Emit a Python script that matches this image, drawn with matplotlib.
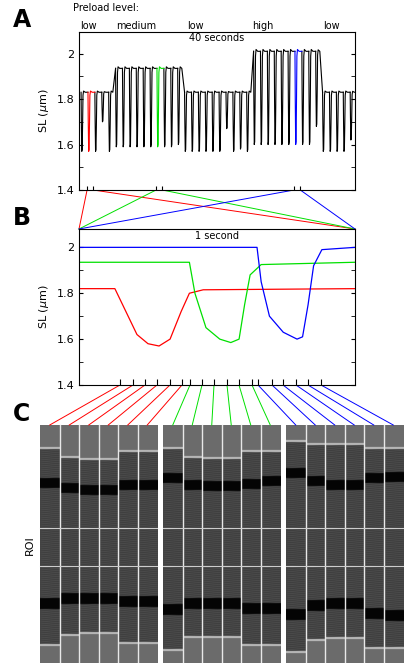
import numpy as np
import matplotlib
matplotlib.use("Agg")
import matplotlib.pyplot as plt
from matplotlib.ticker import MultipleLocator

W, H = 408, 663
# ---------------- data ----------------
beat_times = [0.3 + i for i in range(40)]
beat_base = [1.83]*5 + [1.935]*10 + [1.83]*10 + [2.01]*10 + [1.83]*5
beat_min = [1.57, 1.57, 1.57, 1.70, 1.57,
            1.59, 1.59, 1.59, 1.59, 1.59, 1.59, 1.59, 1.59, 1.59, 1.60,
            1.57, 1.57, 1.57, 1.57, 1.57, 1.57, 1.67, 1.57, 1.58, 1.57,
            1.60, 1.60, 1.60, 1.60, 1.60, 1.60, 1.60, 1.60, 1.60, 1.68,
            1.57, 1.57, 1.57, 1.57, 1.62]
twitch_phase = [0.0, 0.04, 0.10, 0.16, 0.22, 0.28, 0.36, 0.6, 1.0]
twitch_frac = [0.0, 0.5, 1.0, 0.97, 0.55, 0.05, -0.02, 0.0, 0.0]
highlight = {1: "red", 11: "#00e000", 31: "blue"}
segment_labels = ["low", "medium", "low", "high", "low"]
segment_label_x = [88, 136, 195, 263, 331]

b_red_t = [0, 0.13, 0.17, 0.21, 0.25, 0.29, 0.33, 0.37, 0.40, 0.45, 1.0]
b_red_y = [1.82, 1.82, 1.72, 1.62, 1.58, 1.57, 1.60, 1.72, 1.80, 1.815, 1.82]
b_grn_t = [0, 0.40, 0.42, 0.46, 0.51, 0.55, 0.58, 0.60, 0.62, 0.66, 1.0]
b_grn_y = [1.935, 1.935, 1.80, 1.65, 1.60, 1.585, 1.60, 1.75, 1.88, 1.925, 1.935]
b_blu_t = [0, 0.645, 0.66, 0.69, 0.74, 0.79, 0.81, 0.83, 0.85, 0.88, 1.0]
b_blu_y = [2.0, 2.0, 1.85, 1.70, 1.63, 1.60, 1.61, 1.75, 1.92, 1.99, 2.0]

frame_tick_px = [120, 133, 145, 157, 170, 182, 190, 202, 214, 227, 239, 252,
                 258, 272, 283, 296, 308, 321]
frame_colors = ["red"]*6 + ["#00e000"]*6 + ["blue"]*6
group_x0 = [40, 163, 286]
col_w = 19.5
col_top_edge = [[448, 457, 459, 459, 451, 451], [448, 457, 458, 458, 451, 451], [441, 444, 444, 444, 448, 448]]
col_band1 = [[478, 483, 485, 485, 480, 480], [473, 480, 481, 481, 479, 476], [468, 476, 480, 480, 473, 472]]
col_band2 = [[598, 593, 593, 593, 596, 596], [604, 598, 598, 598, 603, 603], [609, 600, 598, 598, 608, 610]]
col_bot_edge = [[645, 635, 633, 633, 643, 643], [650, 637, 637, 637, 645, 645], [652, 640, 638, 638, 648, 648]]

# ---------------- figure ----------------
fig = plt.figure(figsize=(W/100, H/100), dpi=100)
ov = fig.add_axes([0, 0, 1, 1])
ov.axis("off")

def ax_at(x0, y0, x1, y1):
    return fig.add_axes([x0/W, 1-y1/H, (x1-x0)/W, (y1-y0)/H])

def style(ax, ymax):
    ax.set_ylim(1.4, ymax)
    ax.yaxis.set_minor_locator(MultipleLocator(0.1))
    ax.tick_params(axis="y", which="both", direction="in", right=True, labelsize=8, length=3)
    ax.set_yticks([1.4, 1.6, 1.8, 2.0]); ax.set_yticklabels(["1.4", "1.6", "1.8", "2"])
    ax.set_ylabel(r"SL ($\mu$m)", fontsize=8)
    for s in ax.spines.values(): s.set_linewidth(0.8)

# Panel A
axA = ax_at(79, 32, 355, 190)
axA.set_xlim(0, 40)
for i, t0 in enumerate(beat_times):
    ts = [t0 + p for p in twitch_phase]
    ys = [beat_base[i] - f*(beat_base[i]-beat_min[i]) for f in twitch_frac]
    if i + 1 < len(beat_times):
        ys[-1] = beat_base[i+1]
    axA.plot(ts, ys, color=highlight.get(i, "black"), lw=0.8, zorder=3 if i in highlight else 2)
style(axA, 2.095)
win_starts = [beat_times[k] - 0.13 for k in highlight]
axA.set_xticks([v for s in win_starts for v in (s, s + 0.9)])
axA.tick_params(axis="x", direction="in", labelbottom=False, length=3)
axA.text(20, 2.07, "40 seconds", ha="center", va="center", fontsize=7)
fig.text(73/W, 1-8/H, "Preload level:", fontsize=7, va="center")
for lab, x in zip(segment_labels, segment_label_x):
    fig.text(x/W, 1-26/H, lab, fontsize=7, ha="center", va="center")

# Panel B
axB = ax_at(79, 229, 355, 385)
axB.set_xlim(0, 1)
axB.plot(b_red_t, b_red_y, color="red", lw=0.9)
axB.plot(b_grn_t, b_grn_y, color="#00e000", lw=0.9)
axB.plot(b_blu_t, b_blu_y, color="blue", lw=0.9)
style(axB, 2.08)
axB.set_xticks([(p-79)/276 for p in frame_tick_px])
axB.tick_params(axis="x", direction="in", labelbottom=False, length=4)
axB.text(0.5, 2.05, "1 second", ha="center", va="center", fontsize=7)

# connection lines A -> B
for k, c in zip(range(3), ["red", "#00e000", "blue"]):
    s = win_starts[k]
    xa = 79 + s/40*276; xb = 79 + (s+0.9)/40*276
    ov.plot([xa, 79], [190, 229], color=c, lw=0.7)
    ov.plot([xb, 355], [190, 229], color=c, lw=0.7)

# Panel C images (schematic rendering of the microscopy strips)
img_top, img_bot = 425, 663
yy = np.arange(img_top, img_bot, 0.5) + 0.25
xx = np.arange(0, 20, 0.5)
stri = 0.06*np.cos(2*np.pi*yy[:, None]/2.0 + 0.3*xx[None, :])
for g in range(3):
    for j in range(6):
        x0 = group_x0[g] + j*col_w
        col = np.full(yy.shape, 0.27)
        inside = np.ones(yy.shape, bool)
        col[yy < col_top_edge[g][j]] = 0.42; inside[yy < col_top_edge[g][j]] = False
        col[(yy > col_band1[g][j]) & (yy < col_band1[g][j] + 10)] = 0.02
        col[(yy > col_band2[g][j]) & (yy < col_band2[g][j] + 11)] = 0.02
        col[yy > col_bot_edge[g][j]] = 0.42; inside[yy > col_bot_edge[g][j]] = False
        img = col[:, None] + stri*inside[:, None]*(col[:, None] > 0.1)
        img[np.abs(yy - col_top_edge[g][j]) < 0.8] = 0.75
        img[np.abs(yy - col_bot_edge[g][j]) < 0.8] = 0.75
        ov.imshow(img, cmap="gray", vmin=0, vmax=1, extent=(x0, x0 + col_w, img_bot, img_top),
                  aspect="auto", interpolation="bilinear")
        if j > 0:
            ov.plot([x0, x0], [img_top, img_bot], color="#e8e8e8", lw=1.0)
    for yl in (528, 566):
        ov.plot([group_x0[g], group_x0[g] + 6*col_w], [yl, yl], color="#cccccc", lw=0.8)

centers = [group_x0[g] + j*col_w + col_w/2 for g in range(3) for j in range(6)]
for p, cx, c in zip(frame_tick_px, centers, frame_colors):
    ov.plot([p, cx], [385, 425], color=c, lw=0.7)
ov.set_xlim(0, W); ov.set_ylim(H, 0)

fig.text(30/W, 1-545/H, "ROI", rotation=90, fontsize=8, ha="center", va="center")
for lab, y in (("A", 20), ("B", 218), ("C", 414)):
    fig.text(13/W, 1-y/H, lab, fontsize=17, fontweight="bold", va="center")

fig.savefig("out.png", dpi=100)
